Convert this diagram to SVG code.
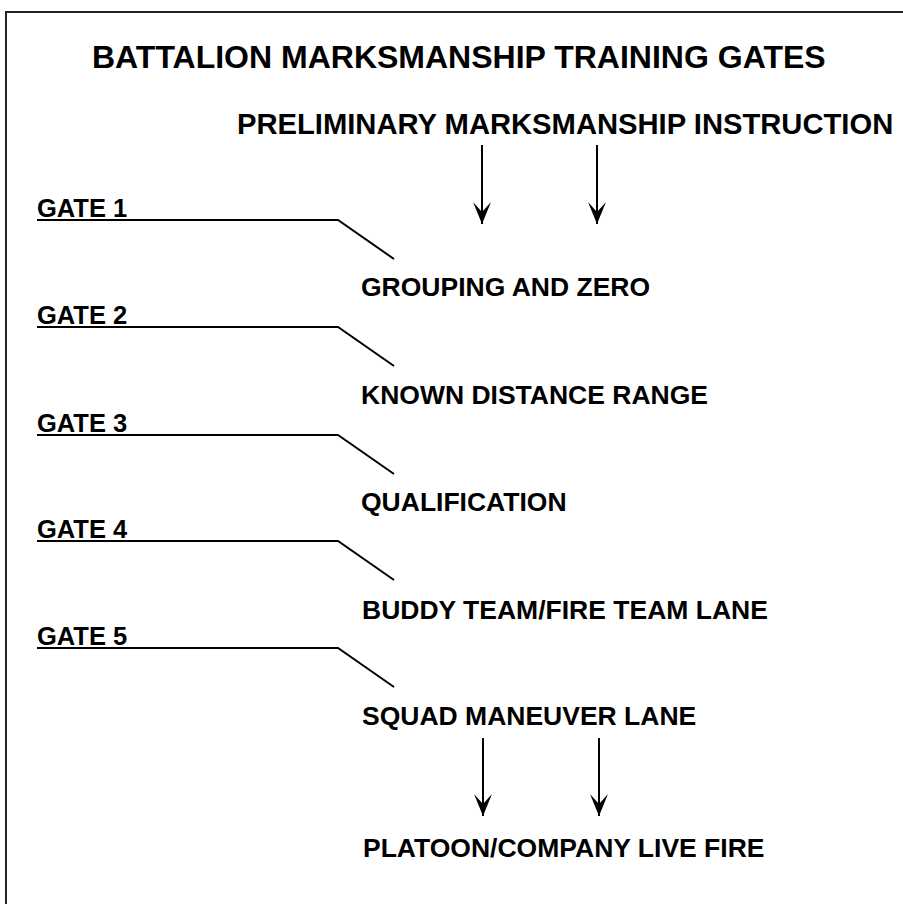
<svg xmlns="http://www.w3.org/2000/svg" width="903" height="904" viewBox="0 0 903 904">
<style>
text{font-family:"Liberation Sans",Arial,sans-serif;font-weight:bold;fill:#000}
.title{font-size:32px}
.sub{font-size:29.2px}
.lbl{font-size:26.5px}
.gate{font-size:25.5px}
.ln{fill:none;stroke:#000;stroke-width:2}
.arr{fill:none;stroke:#000;stroke-width:2;marker-end:url(#ah)}
.frame{fill:none;stroke:#222;stroke-width:2}
</style>
<defs>
<marker id="ah" markerUnits="userSpaceOnUse" markerWidth="24" markerHeight="20" refX="22" refY="0" orient="auto" overflow="visible">
<path d="M22,0 L0,-9 L10,0 L0,9 Z" fill="#000"/>
</marker>
</defs>
<rect width="903" height="904" fill="#fff"/>
<path class="frame" d="M6,904 L6,12 L903,12"/>
<g id="title"><text class="title" x="92" y="68">BATTALION MARKSMANSHIP TRAINING GATES</text></g>
<g id="pmi"><text class="sub" x="237" y="134">PRELIMINARY MARKSMANSHIP INSTRUCTION</text></g>
<g id="grouping"><text class="lbl" x="361" y="296">GROUPING AND ZERO</text></g>
<g id="kd"><text class="lbl" x="361" y="404">KNOWN DISTANCE RANGE</text></g>
<g id="qual"><text class="lbl" x="361" y="511">QUALIFICATION</text></g>
<g id="buddy"><text class="lbl" x="362" y="619">BUDDY TEAM/FIRE TEAM LANE</text></g>
<g id="squad"><text class="lbl" x="362" y="725">SQUAD MANEUVER LANE</text></g>
<g id="platoon"><text class="lbl" x="363" y="857">PLATOON/COMPANY LIVE FIRE</text></g>
<g id="gate1"><text class="gate" x="37" y="217">GATE 1</text></g>
<g id="gate2"><text class="gate" x="37" y="324">GATE 2</text></g>
<g id="gate3"><text class="gate" x="37" y="432">GATE 3</text></g>
<g id="gate4"><text class="gate" x="37" y="538">GATE 4</text></g>
<g id="gate5"><text class="gate" x="37" y="645">GATE 5</text></g>
<g id="connectors">
<line class="arr" x1="482" y1="145" x2="482" y2="224"/>
<line class="arr" x1="597" y1="145" x2="597" y2="224"/>
<line class="arr" x1="483" y1="738" x2="483" y2="816"/>
<line class="arr" x1="599" y1="738" x2="599" y2="816"/>
<polyline class="ln" points="37,220 338,220 394,259"/>
<polyline class="ln" points="37,327 338,327 394,366"/>
<polyline class="ln" points="37,435 338,435 394,474"/>
<polyline class="ln" points="37,541 338,541 394,580"/>
<polyline class="ln" points="37,648 338,648 394,687"/>
</g>
</svg>
